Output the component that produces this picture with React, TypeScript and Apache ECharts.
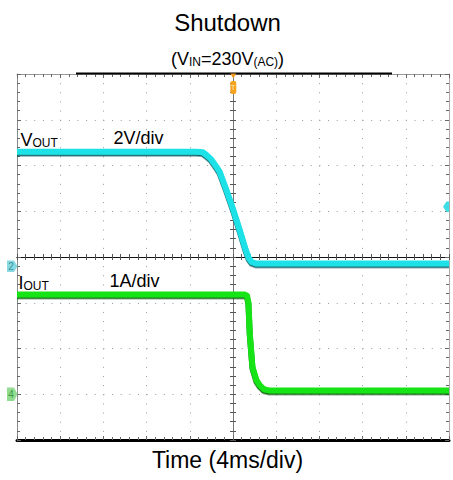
import React, { useEffect, useRef } from 'react';
import * as echarts from 'echarts';

// Time in ms (4 ms/div, trigger at 0)
const timeV = [-20, -3.4, -2.8, -2.46, -2.06, -1.54, -1.23, -0.61, 0, 0.62, 1.18, 1.46, 1.73, 2.1, 2.8, 20];
// VOUT in volts (2 V/div)
const vout = [5.0, 5.0, 4.98, 4.86, 4.69, 4.35, 4.12, 3.33, 2.5, 1.58, 0.71, 0.36, 0.18, 0.12, 0.12, 0.12];
const timeI = [-20, 1.1, 1.3, 1.43, 1.55, 1.8, 2.17, 2.47, 2.85, 3.4, 20];
// IOUT in amperes (1 A/div)
const iout = [2.18, 2.18, 2.15, 2.0, 1.34, 0.6, 0.31, 0.2, 0.11, 0.08, 0.08];

const FONT = '"Liberation Sans", Arial, Helvetica, sans-serif';

export default function App() {
  const ref = useRef<HTMLDivElement>(null);
  useEffect(() => {
    const chart = echarts.init(ref.current!, null, { renderer: 'svg' });
    const dotX = { color: '#9a9a9a', width: 1, type: [1, 8.15] };
    const dotY = { color: '#9a9a9a', width: 1, type: [1, 7.64] };
    const tickStyle = { color: '#666', width: 1 };
    const timeBase: any = { type: 'value', min: -20, max: 20, interval: 4, axisLabel: { show: false } };
    const divBase: any = { type: 'value', min: -4, max: 4, interval: 1, axisLabel: { show: false } };
    const frameTicks = {
      axisTick: { show: true, inside: true, length: 4, lineStyle: tickStyle },
      minorTick: { show: true, splitNumber: 5, length: 3, lineStyle: tickStyle },
    };
    const centerTicks = {
      axisTick: { show: true, inside: true, length: 3, lineStyle: { color: '#555', width: 1 } },
      minorTick: { show: true, splitNumber: 5, length: 3, lineStyle: { color: '#555', width: 1 } },
    };
    const gridRect = { left: 17, top: 74, width: 432, height: 366 };

    chart.setOption({
      animation: false,
      backgroundColor: '#fff',
      grid: [
        { ...gridRect, containLabel: false },
        { ...gridRect, containLabel: false },
      ],
      xAxis: [
        {
          ...timeBase, gridIndex: 0, position: 'bottom',
          axisLine: { show: true, onZero: false, lineStyle: { color: '#000', width: 3 } },
          ...frameTicks,
          splitLine: { show: true, lineStyle: dotX },
        },
        {
          ...timeBase, gridIndex: 0, position: 'top',
          axisLine: { show: true, onZero: false, lineStyle: { color: '#9a9a9a', width: 1 } },
          ...frameTicks,
          splitLine: { show: false },
        },
        {
          ...timeBase, gridIndex: 1, position: 'bottom',
          axisLine: { show: true, onZero: true, lineStyle: { color: '#111', width: 1 } },
          ...centerTicks,
          splitLine: { show: false },
        },
        {
          ...timeBase, gridIndex: 1, position: 'top',
          axisLine: { show: true, onZero: true, lineStyle: { color: '#111', width: 1 } },
          ...centerTicks,
          splitLine: { show: false },
        },
      ],
      yAxis: [
        {
          ...divBase, gridIndex: 0, position: 'left',
          axisLine: { show: true, onZero: false, lineStyle: { color: '#8a8a8a', width: 1 } },
          ...frameTicks,
          splitLine: { show: true, lineStyle: dotY },
        },
        {
          ...divBase, gridIndex: 0, position: 'right',
          axisLine: { show: true, onZero: false, lineStyle: { color: '#aaaaaa', width: 1 } },
          ...frameTicks,
          splitLine: { show: false },
        },
        { type: 'value', gridIndex: 0, min: -7.6, max: 8.4, show: false },
        { type: 'value', gridIndex: 0, min: -1, max: 7, show: false },
        {
          ...divBase, gridIndex: 1, position: 'left',
          axisLine: { show: true, onZero: true, lineStyle: { color: '#777', width: 1 } },
          ...centerTicks,
          splitLine: { show: false },
        },
        {
          ...divBase, gridIndex: 1, position: 'right',
          axisLine: { show: true, onZero: true, lineStyle: { color: '#777', width: 1 } },
          ...centerTicks,
          splitLine: { show: false },
        },
      ],
      series: [
        {
          type: 'line', name: 'VOUT', xAxisIndex: 0, yAxisIndex: 2,
          data: timeV.map((t, i) => [t, vout[i]]),
          showSymbol: false, symbol: 'none', smooth: false, silent: true, z: 5,
          lineStyle: { color: '#1fe2e8', width: 6, cap: 'butt', join: 'round', shadowColor: '#0d5f64', shadowOffsetY: 1.5, shadowBlur: 0 },
        },
        {
          type: 'line', name: 'IOUT', xAxisIndex: 0, yAxisIndex: 3,
          data: timeI.map((t, i) => [t, iout[i]]),
          showSymbol: false, symbol: 'none', smooth: false, silent: true, z: 5,
          lineStyle: { color: '#16e416', width: 6, cap: 'butt', join: 'round', shadowColor: '#0b5a0b', shadowOffsetY: 1.5, shadowBlur: 0 },
        },
      ],
      graphic: [
        { type: 'rect', shape: { x: 76, y: 72.5, width: 316, height: 2 }, style: { fill: '#000' }, z: 10 },
        // trigger marker
        { type: 'polygon', shape: { points: [[230.3, 73.5], [236.3, 73.5], [233.3, 78.5]] }, style: { fill: '#f39a1e' }, z: 11 },
        { type: 'rect', shape: { x: 230.3, y: 81, width: 6, height: 13, r: 2 }, style: { fill: '#f5a31f' }, z: 11 },
        { type: 'text', x: 233.3, y: 87.5, style: { text: 'T', fontSize: 8, fontFamily: FONT, fill: '#ffe6b8', align: 'center', verticalAlign: 'middle' }, z: 12 },
        // channel 2 ground marker
        { type: 'polygon', shape: { points: [[7, 260.5], [14, 260.5], [17.5, 266.2], [14, 272], [7, 272]] }, style: { fill: '#88d9e2' }, z: 11 },
        { type: 'text', x: 11, y: 266.5, style: { text: '2', fontSize: 10, fontFamily: FONT, fill: '#3a94a0', align: 'center', verticalAlign: 'middle' }, z: 12 },
        // channel 4 ground marker
        { type: 'polygon', shape: { points: [[7, 387.5], [14, 387.5], [17.5, 394.3], [14, 401], [7, 401]] }, style: { fill: '#92dc92' }, z: 11 },
        { type: 'text', x: 11, y: 394.5, style: { text: '4', fontSize: 10, fontFamily: FONT, fill: '#3f9a3f', align: 'center', verticalAlign: 'middle' }, z: 12 },
        // trigger level marker
        { type: 'polygon', shape: { points: [[443, 206.7], [446.5, 201.5], [449, 201.5], [449, 212], [446.5, 212]] }, style: { fill: '#3fdde6' }, z: 11 },
        // titles
        { type: 'text', x: 227.5, y: 22.4, style: { text: 'Shutdown', fontSize: 24, fontFamily: FONT, fill: '#000', align: 'center', verticalAlign: 'middle' }, z: 12 },
        {
          type: 'text', x: 227.5, y: 57, z: 12,
          style: {
            text: '{a|(V}{b|IN}{a|=230V}{b|(AC)}{a|)}', align: 'center', verticalAlign: 'middle', fill: '#000', fontFamily: FONT,
            rich: {
              a: { fontSize: 18, lineHeight: 22, verticalAlign: 'bottom', fontFamily: FONT, fill: '#000' },
              b: { fontSize: 12, lineHeight: 12, verticalAlign: 'bottom', fontFamily: FONT, fill: '#000' },
            },
          },
        },
        {
          type: 'text', x: 20.5, y: 137.8, z: 12,
          style: {
            text: '{a|V}{b|OUT}', align: 'left', verticalAlign: 'middle', fill: '#000', fontFamily: FONT,
            rich: {
              a: { fontSize: 18, lineHeight: 22, verticalAlign: 'bottom', fontFamily: FONT, fill: '#000' },
              b: { fontSize: 12, lineHeight: 18, verticalAlign: 'bottom', fontFamily: FONT, fill: '#000' },
            },
          },
        },
        { type: 'text', x: 113.5, y: 137.8, z: 12, style: { text: '2V/div', fontSize: 18, fontFamily: FONT, fill: '#000', align: 'left', verticalAlign: 'middle' } },
        {
          type: 'text', x: 18.5, y: 280.8, z: 12,
          style: {
            text: '{a|I}{b|OUT}', align: 'left', verticalAlign: 'middle', fill: '#000', fontFamily: FONT,
            rich: {
              a: { fontSize: 18, lineHeight: 22, verticalAlign: 'bottom', fontFamily: FONT, fill: '#000' },
              b: { fontSize: 12, lineHeight: 18, verticalAlign: 'bottom', fontFamily: FONT, fill: '#000' },
            },
          },
        },
        { type: 'text', x: 109.5, y: 280.8, z: 12, style: { text: '1A/div', fontSize: 18, fontFamily: FONT, fill: '#000', align: 'left', verticalAlign: 'middle' } },
        { type: 'text', x: 227.5, y: 460, z: 12, style: { text: 'Time (4ms/div)', fontSize: 23, fontFamily: FONT, fill: '#000', align: 'center', verticalAlign: 'middle' } },
      ],
    });
    return () => chart.dispose();
  }, []);
  return (
    <div
      ref={ref}
      style={{ position: 'fixed', left: 0, top: 0, width: 453, height: 480, background: '#fff' }}
    />
  );
}
